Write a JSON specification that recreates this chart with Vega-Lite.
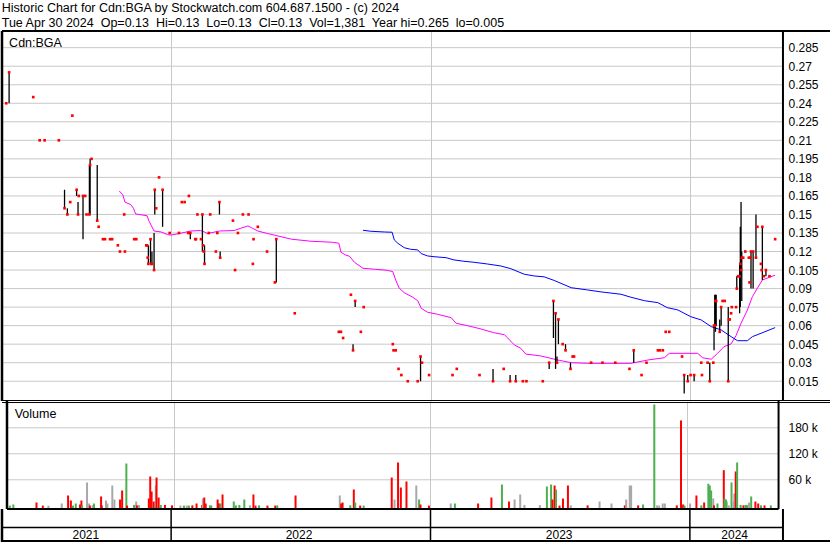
{
 "$schema": "https://vega.github.io/schema/vega-lite/v6.json",
 "padding": {"left": 0, "top": 2, "right": 0, "bottom": 0},
 "background": "#ffffff",
 "spacing": 0,
 "bounds": "flush",
 "title": {
  "text": ["Historic Chart for Cdn:BGA by Stockwatch.com 604.687.1500 - (c) 2024", "Tue Apr 30 2024\u00a0 Op=0.13\u00a0 Hi=0.13\u00a0 Lo=0.13\u00a0 Cl=0.13\u00a0 Vol=1,381\u00a0 Year hi=0.265\u00a0 lo=0.005"],
  "anchor": "start", "fontSize": 12.5, "fontWeight": "normal", "font": "Liberation Sans", "color": "#000000",
  "lineHeight": 15, "offset": 0, "dx": 1
 },
 "resolve": {"scale": {"x": "independent", "y": "independent", "color": "independent"}},
 "config": {
  "view": {"stroke": null},
  "font": "Liberation Sans",
  "axis": {"minExtent": 0, "labelFont": "Liberation Sans", "labelColor": "#000000", "labelFontSize": 12, "ticks": false, "domain": false, "gridColor": "#C8C8C8", "gridOpacity": 1, "gridWidth": 1, "labelOverlap": false},
  "concat": {"spacing": 0}
 },
 "datasets": {
  "pgrid": [{"g":0.015},{"g":0.03},{"g":0.045},{"g":0.06},{"g":0.075},{"g":0.09},{"g":0.105},{"g":0.12},{"g":0.135},{"g":0.15},{"g":0.165},{"g":0.18},{"g":0.195},{"g":0.21},{"g":0.225},{"g":0.24},{"g":0.255},{"g":0.27},{"g":0.285}],
  "vgrid": [{"g":60000},{"g":120000},{"g":180000}],
  "years": [
   {"year":"2021","start":"2021-01-01","mid":"2021-09-03"},
   {"year":"2022","start":"2022-01-01","mid":"2022-06-30"},
   {"year":"2023","start":"2023-01-01","mid":"2023-07-01"},
   {"year":"2024","start":"2024-01-01","mid":"2024-03-04"}
  ],
  "px": [
   {"d":"2021-05-14","cl":0.24},
   {"d":"2021-05-18","hi":0.265,"lo":0.24,"cl":0.265},
   {"d":"2021-06-21","cl":0.245},
   {"d":"2021-06-30","cl":0.21},
   {"d":"2021-07-07","cl":0.21},
   {"d":"2021-07-27","cl":0.21},
   {"d":"2021-08-04","hi":0.17,"lo":0.155,"cl":0.155},
   {"d":"2021-08-08","hi":0.155,"lo":0.15,"cl":0.15},
   {"d":"2021-08-12","cl":0.16},
   {"d":"2021-08-15","cl":0.23},
   {"d":"2021-08-21","hi":0.17,"lo":0.165,"cl":0.17},
   {"d":"2021-08-23","hi":0.16,"lo":0.15,"cl":0.15},
   {"d":"2021-08-24","cl":0.165},
   {"d":"2021-08-30","hi":0.165,"lo":0.13,"cl":0.165},
   {"d":"2021-09-02","cl":0.165},
   {"d":"2021-09-04","cl":0.15},
   {"d":"2021-09-08","hi":0.19,"lo":0.15,"cl":0.15},
   {"d":"2021-09-09","hi":0.195,"lo":0.15,"cl":0.19},
   {"d":"2021-09-11","cl":0.195},
   {"d":"2021-09-19","hi":0.19,"lo":0.145,"cl":0.145},
   {"d":"2021-09-21","cl":0.14},
   {"d":"2021-09-27","cl":0.13},
   {"d":"2021-09-30","cl":0.13},
   {"d":"2021-10-07","cl":0.13},
   {"d":"2021-10-10","cl":0.13},
   {"d":"2021-10-18","cl":0.125},
   {"d":"2021-10-21","cl":0.12},
   {"d":"2021-10-27","cl":0.15},
   {"d":"2021-10-28","cl":0.12},
   {"d":"2021-11-10","cl":0.13},
   {"d":"2021-11-13","cl":0.13},
   {"d":"2021-11-27","cl":0.125},
   {"d":"2021-11-28","cl":0.125},
   {"d":"2021-11-29","cl":0.115},
   {"d":"2021-11-30","hi":0.125,"lo":0.11,"cl":0.11},
   {"d":"2021-12-03","hi":0.13,"lo":0.11,"cl":0.13},
   {"d":"2021-12-04","cl":0.11},
   {"d":"2021-12-05","hi":0.12,"lo":0.11,"cl":0.11},
   {"d":"2021-12-08","hi":0.135,"lo":0.105,"cl":0.105},
   {"d":"2021-12-09","hi":0.17,"lo":0.15,"cl":0.17},
   {"d":"2021-12-11","cl":0.155},
   {"d":"2021-12-15","cl":0.18},
   {"d":"2021-12-20","hi":0.17,"lo":0.14,"cl":0.17},
   {"d":"2021-12-30","cl":0.135},
   {"d":"2022-01-12","cl":0.135},
   {"d":"2022-01-16","cl":0.16},
   {"d":"2022-01-20","cl":0.16},
   {"d":"2022-01-25","cl":0.135},
   {"d":"2022-01-26","cl":0.165},
   {"d":"2022-01-28","hi":0.135,"lo":0.13,"cl":0.135},
   {"d":"2022-02-04","cl":0.13},
   {"d":"2022-02-05","cl":0.13},
   {"d":"2022-02-07","cl":0.15},
   {"d":"2022-02-12","cl":0.13},
   {"d":"2022-02-14","hi":0.15,"lo":0.12,"cl":0.15},
   {"d":"2022-02-15","cl":0.125},
   {"d":"2022-02-16","cl":0.12},
   {"d":"2022-02-17","hi":0.125,"lo":0.11,"cl":0.11},
   {"d":"2022-02-23","cl":0.135},
   {"d":"2022-02-25","cl":0.15},
   {"d":"2022-03-05","cl":0.12},
   {"d":"2022-03-07","cl":0.135},
   {"d":"2022-03-10","hi":0.16,"lo":0.15,"cl":0.16},
   {"d":"2022-03-11","hi":0.12,"lo":0.115,"cl":0.115},
   {"d":"2022-03-29","cl":0.145},
   {"d":"2022-04-01","cl":0.105},
   {"d":"2022-04-05","cl":0.135},
   {"d":"2022-04-12","cl":0.15},
   {"d":"2022-04-20","cl":0.15},
   {"d":"2022-04-26","cl":0.11},
   {"d":"2022-04-27","cl":0.13},
   {"d":"2022-05-03","cl":0.14},
   {"d":"2022-05-16","cl":0.12},
   {"d":"2022-05-27","cl":0.095},
   {"d":"2022-05-29","hi":0.13,"lo":0.095,"cl":0.13},
   {"d":"2022-06-24","cl":0.07},
   {"d":"2022-08-25","cl":0.055},
   {"d":"2022-08-28","cl":0.055},
   {"d":"2022-08-31","cl":0.05},
   {"d":"2022-09-11","cl":0.085},
   {"d":"2022-09-14","hi":0.045,"lo":0.04,"cl":0.04},
   {"d":"2022-09-17","hi":0.08,"lo":0.075,"cl":0.08},
   {"d":"2022-09-25","cl":0.055},
   {"d":"2022-09-29","cl":0.075},
   {"d":"2022-11-09","cl":0.045},
   {"d":"2022-11-10","cl":0.04},
   {"d":"2022-11-13","cl":0.04},
   {"d":"2022-11-17","cl":0.025},
   {"d":"2022-11-21","cl":0.02},
   {"d":"2022-11-30","cl":0.015},
   {"d":"2022-12-14","cl":0.015},
   {"d":"2022-12-18","hi":0.035,"lo":0.015,"cl":0.035},
   {"d":"2022-12-20","cl":0.03},
   {"d":"2022-12-30","cl":0.02},
   {"d":"2023-02-01","cl":0.02},
   {"d":"2023-02-07","cl":0.025},
   {"d":"2023-03-11","cl":0.02},
   {"d":"2023-03-30","hi":0.025,"lo":0.015,"cl":0.015},
   {"d":"2023-04-14","cl":0.025},
   {"d":"2023-04-23","hi":0.02,"lo":0.015,"cl":0.015},
   {"d":"2023-05-01","hi":0.02,"lo":0.015,"cl":0.015},
   {"d":"2023-05-11","cl":0.015},
   {"d":"2023-05-16","cl":0.015},
   {"d":"2023-06-08","cl":0.015},
   {"d":"2023-06-17","hi":0.03,"lo":0.025,"cl":0.03},
   {"d":"2023-06-23","hi":0.08,"lo":0.05,"cl":0.08},
   {"d":"2023-06-26","hi":0.07,"lo":0.025,"cl":0.07},
   {"d":"2023-06-28","hi":0.035,"lo":0.03,"cl":0.03},
   {"d":"2023-06-30","hi":0.065,"lo":0.045,"cl":0.065},
   {"d":"2023-07-06","cl":0.045},
   {"d":"2023-07-10","hi":0.045,"lo":0.04,"cl":0.04},
   {"d":"2023-07-17","hi":0.03,"lo":0.025,"cl":0.025},
   {"d":"2023-07-20","cl":0.035},
   {"d":"2023-07-22","cl":0.035},
   {"d":"2023-08-15","cl":0.03},
   {"d":"2023-08-31","cl":0.03},
   {"d":"2023-09-18","cl":0.03},
   {"d":"2023-10-08","cl":0.025},
   {"d":"2023-10-14","hi":0.04,"lo":0.03,"cl":0.04},
   {"d":"2023-10-25","cl":0.02},
   {"d":"2023-11-01","cl":0.03},
   {"d":"2023-11-17","cl":0.04},
   {"d":"2023-11-20","cl":0.04},
   {"d":"2023-11-24","cl":0.04},
   {"d":"2023-11-28","cl":0.055},
   {"d":"2023-12-03","cl":0.055},
   {"d":"2023-12-21","cl":0.035},
   {"d":"2023-12-24","hi":0.02,"lo":0.005,"cl":0.02},
   {"d":"2023-12-29","hi":0.02,"lo":0.015,"cl":0.015},
   {"d":"2024-01-02","cl":0.02},
   {"d":"2024-01-07","hi":0.02,"lo":0.015,"cl":0.02},
   {"d":"2024-01-17","cl":0.03},
   {"d":"2024-01-18","cl":0.02},
   {"d":"2024-01-26","cl":0.03},
   {"d":"2024-01-29","hi":0.03,"lo":0.015,"cl":0.015},
   {"d":"2024-02-03","cl":0.03},
   {"d":"2024-02-04","hi":0.06,"lo":0.04,"cl":0.06},
   {"d":"2024-02-05","hi":0.085,"lo":0.06,"cl":0.06},
   {"d":"2024-02-06","hi":0.085,"lo":0.055,"cl":0.08},
   {"d":"2024-02-07","hi":0.085,"lo":0.06,"cl":0.08},
   {"d":"2024-02-12","hi":0.065,"lo":0.055,"cl":0.055},
   {"d":"2024-02-14","hi":0.075,"lo":0.06,"cl":0.075},
   {"d":"2024-02-16","cl":0.08},
   {"d":"2024-02-19","cl":0.08},
   {"d":"2024-02-24","hi":0.075,"lo":0.015,"cl":0.015},
   {"d":"2024-02-25","cl":0.065},
   {"d":"2024-02-26","cl":0.065},
   {"d":"2024-02-28","cl":0.07},
   {"d":"2024-02-29","cl":0.075},
   {"d":"2024-03-06","cl":0.075},
   {"d":"2024-03-07","hi":0.1,"lo":0.09,"cl":0.09},
   {"d":"2024-03-09","cl":0.1},
   {"d":"2024-03-11","hi":0.11,"lo":0.07,"cl":0.1},
   {"d":"2024-03-12","hi":0.14,"lo":0.075,"cl":0.11},
   {"d":"2024-03-13","hi":0.16,"lo":0.1,"cl":0.105},
   {"d":"2024-03-14","hi":0.12,"lo":0.08,"cl":0.115},
   {"d":"2024-03-16","cl":0.115},
   {"d":"2024-03-19","cl":0.12},
   {"d":"2024-03-24","cl":0.115},
   {"d":"2024-03-25","cl":0.095},
   {"d":"2024-03-26","cl":0.115},
   {"d":"2024-03-27","hi":0.12,"lo":0.09,"cl":0.12},
   {"d":"2024-03-30","hi":0.12,"lo":0.09,"cl":0.12},
   {"d":"2024-04-03","hi":0.15,"lo":0.115,"cl":0.115},
   {"d":"2024-04-05","cl":0.14},
   {"d":"2024-04-10","cl":0.11},
   {"d":"2024-04-11","cl":0.105},
   {"d":"2024-04-12","hi":0.14,"lo":0.097,"cl":0.14},
   {"d":"2024-04-14","cl":0.1},
   {"d":"2024-04-17","hi":0.105,"lo":0.1,"cl":0.105},
   {"d":"2024-04-22","cl":0.1},
   {"d":"2024-04-30","cl":0.13}
  ],
  "ma": [
   {"s":"short","d":"2021-10-20","v":0.169},{"s":"short","d":"2021-10-25","v":0.166},{"s":"short","d":"2021-10-28","v":0.16},
   {"s":"short","d":"2021-11-05","v":0.158},{"s":"short","d":"2021-11-09","v":0.155},{"s":"short","d":"2021-11-12","v":0.1504},
   {"s":"short","d":"2021-11-28","v":0.149},{"s":"short","d":"2021-12-01","v":0.1445},{"s":"short","d":"2021-12-08","v":0.1366},
   {"s":"short","d":"2021-12-18","v":0.1358},{"s":"short","d":"2021-12-27","v":0.1337},{"s":"short","d":"2021-12-31","v":0.1333},
   {"s":"short","d":"2022-01-12","v":0.1345},{"s":"short","d":"2022-01-29","v":0.1366},{"s":"short","d":"2022-02-11","v":0.137},
   {"s":"short","d":"2022-02-17","v":0.1358},{"s":"short","d":"2022-02-21","v":0.1345},{"s":"short","d":"2022-03-10","v":0.1366},
   {"s":"short","d":"2022-03-31","v":0.137},{"s":"short","d":"2022-04-09","v":0.1388},{"s":"short","d":"2022-04-19","v":0.1407},
   {"s":"short","d":"2022-04-24","v":0.1393},{"s":"short","d":"2022-05-03","v":0.1366},{"s":"short","d":"2022-05-17","v":0.1345},
   {"s":"short","d":"2022-05-21","v":0.134},{"s":"short","d":"2022-06-19","v":0.13},{"s":"short","d":"2022-07-17","v":0.1283},
   {"s":"short","d":"2022-08-16","v":0.1275},{"s":"short","d":"2022-08-25","v":0.1267},{"s":"short","d":"2022-08-28","v":0.1194},
   {"s":"short","d":"2022-09-04","v":0.117},{"s":"short","d":"2022-09-09","v":0.1162},{"s":"short","d":"2022-09-16","v":0.1113},
   {"s":"short","d":"2022-09-28","v":0.1064},{"s":"short","d":"2022-10-16","v":0.1056},{"s":"short","d":"2022-11-01","v":0.1048},
   {"s":"short","d":"2022-11-09","v":0.1037},{"s":"short","d":"2022-11-13","v":0.097},{"s":"short","d":"2022-11-18","v":0.0903},
   {"s":"short","d":"2022-11-25","v":0.0867},{"s":"short","d":"2022-12-07","v":0.083},{"s":"short","d":"2022-12-14","v":0.0802},
   {"s":"short","d":"2022-12-19","v":0.074},{"s":"short","d":"2022-12-28","v":0.0708},{"s":"short","d":"2023-01-11","v":0.0692},
   {"s":"short","d":"2023-01-30","v":0.0665},{"s":"short","d":"2023-02-06","v":0.0619},{"s":"short","d":"2023-02-22","v":0.06},
   {"s":"short","d":"2023-03-13","v":0.0573},{"s":"short","d":"2023-03-31","v":0.0543},{"s":"short","d":"2023-04-15","v":0.0527},
   {"s":"short","d":"2023-04-29","v":0.0444},{"s":"short","d":"2023-05-08","v":0.0417},{"s":"short","d":"2023-05-15","v":0.037},
   {"s":"short","d":"2023-06-05","v":0.0355},{"s":"short","d":"2023-06-29","v":0.0322},{"s":"short","d":"2023-07-18","v":0.03},
   {"s":"short","d":"2023-08-10","v":0.0295},{"s":"short","d":"2023-10-10","v":0.0295},{"s":"short","d":"2023-11-03","v":0.0322},
   {"s":"short","d":"2023-11-26","v":0.034},{"s":"short","d":"2023-12-03","v":0.0376},{"s":"short","d":"2024-01-12","v":0.0376},
   {"s":"short","d":"2024-01-19","v":0.034},{"s":"short","d":"2024-01-31","v":0.0328},{"s":"short","d":"2024-02-09","v":0.0376},
   {"s":"short","d":"2024-02-18","v":0.043},{"s":"short","d":"2024-02-28","v":0.0452},{"s":"short","d":"2024-03-06","v":0.052},
   {"s":"short","d":"2024-03-13","v":0.0619},{"s":"short","d":"2024-03-22","v":0.0727},{"s":"short","d":"2024-03-29","v":0.0835},
   {"s":"short","d":"2024-04-05","v":0.0903},{"s":"short","d":"2024-04-12","v":0.097},{"s":"short","d":"2024-04-22","v":0.0992},
   {"s":"short","d":"2024-04-30","v":0.1008},
   {"s":"long","d":"2022-09-28","v":0.1372},{"s":"long","d":"2022-10-09","v":0.1364},{"s":"long","d":"2022-10-28","v":0.1358},
   {"s":"long","d":"2022-11-08","v":0.1356},{"s":"long","d":"2022-11-11","v":0.1294},{"s":"long","d":"2022-11-16","v":0.1267},
   {"s":"long","d":"2022-11-25","v":0.1231},{"s":"long","d":"2022-12-04","v":0.1218},{"s":"long","d":"2022-12-14","v":0.1213},
   {"s":"long","d":"2022-12-19","v":0.1183},{"s":"long","d":"2022-12-28","v":0.1164},{"s":"long","d":"2023-01-06","v":0.1158},
   {"s":"long","d":"2023-01-23","v":0.115},{"s":"long","d":"2023-02-03","v":0.1132},{"s":"long","d":"2023-02-17","v":0.1121},
   {"s":"long","d":"2023-03-03","v":0.1113},{"s":"long","d":"2023-03-22","v":0.1099},{"s":"long","d":"2023-04-10","v":0.1083},
   {"s":"long","d":"2023-04-24","v":0.1061},{"s":"long","d":"2023-05-13","v":0.1016},{"s":"long","d":"2023-05-27","v":0.1002},
   {"s":"long","d":"2023-06-10","v":0.0995},{"s":"long","d":"2023-06-24","v":0.0966},{"s":"long","d":"2023-07-18","v":0.0907},
   {"s":"long","d":"2023-08-10","v":0.0889},{"s":"long","d":"2023-08-29","v":0.0873},{"s":"long","d":"2023-09-26","v":0.0854},
   {"s":"long","d":"2023-10-10","v":0.083},{"s":"long","d":"2023-10-29","v":0.0802},{"s":"long","d":"2023-11-17","v":0.0786},
   {"s":"long","d":"2023-11-30","v":0.0746},{"s":"long","d":"2023-12-15","v":0.0727},{"s":"long","d":"2024-01-02","v":0.0673},
   {"s":"long","d":"2024-01-17","v":0.0646},{"s":"long","d":"2024-01-31","v":0.0592},{"s":"long","d":"2024-02-14","v":0.0565},
   {"s":"long","d":"2024-02-28","v":0.0511},{"s":"long","d":"2024-03-08","v":0.0478},{"s":"long","d":"2024-03-22","v":0.0478},
   {"s":"long","d":"2024-03-29","v":0.0511},{"s":"long","d":"2024-04-10","v":0.0538},{"s":"long","d":"2024-04-30","v":0.0584}
  ],
  "vol": [
   {"d":"2021-05-12","v":500,"dir":"up"},{"d":"2021-05-17","v":3000,"dir":"up"},{"d":"2021-06-19","v":7600,"dir":"down"},
   {"d":"2021-06-28","v":500,"dir":"down"},{"d":"2021-07-06","v":300,"dir":"flat"},{"d":"2021-07-25","v":5300,"dir":"flat"},
   {"d":"2021-08-03","v":23800,"dir":"down"},{"d":"2021-08-07","v":12200,"dir":"down"},{"d":"2021-08-10","v":500,"dir":"up"},
   {"d":"2021-08-14","v":5300,"dir":"up"},{"d":"2021-08-20","v":3000,"dir":"down"},{"d":"2021-08-22","v":12200,"dir":"down"},
   {"d":"2021-08-23","v":1000,"dir":"up"},{"d":"2021-08-30","v":53800,"dir":"flat"},{"d":"2021-09-02","v":5300,"dir":"flat"},
   {"d":"2021-09-03","v":500,"dir":"down"},{"d":"2021-09-07","v":1500,"dir":"flat"},{"d":"2021-09-09","v":5300,"dir":"up"},
   {"d":"2021-09-19","v":21500,"dir":"down"},{"d":"2021-09-20","v":1000,"dir":"down"},{"d":"2021-09-26","v":12200,"dir":"flat"},
   {"d":"2021-09-28","v":5300,"dir":"flat"},{"d":"2021-10-05","v":46800,"dir":"flat"},{"d":"2021-10-08","v":14500,"dir":"flat"},
   {"d":"2021-10-16","v":14500,"dir":"down"},{"d":"2021-10-19","v":35300,"dir":"down"},{"d":"2021-10-25","v":97600,"dir":"up"},
   {"d":"2021-10-26","v":500,"dir":"down"},{"d":"2021-11-05","v":2000,"dir":"up"},{"d":"2021-11-08","v":9900,"dir":"flat"},
   {"d":"2021-11-09","v":1000,"dir":"down"},{"d":"2021-11-12","v":2000,"dir":"flat"},{"d":"2021-11-26","v":16800,"dir":"down"},
   {"d":"2021-11-28","v":67600,"dir":"down"},{"d":"2021-11-30","v":33000,"dir":"down"},{"d":"2021-12-02","v":1000,"dir":"up"},
   {"d":"2021-12-03","v":9900,"dir":"down"},{"d":"2021-12-06","v":46800,"dir":"flat"},{"d":"2021-12-07","v":65300,"dir":"down"},
   {"d":"2021-12-10","v":19100,"dir":"down"},{"d":"2021-12-13","v":2000,"dir":"up"},{"d":"2021-12-19","v":2000,"dir":"down"},
   {"d":"2021-12-29","v":1000,"dir":"down"},
   {"d":"2022-01-10","v":500,"dir":"flat"},{"d":"2022-01-15","v":500,"dir":"up"},{"d":"2022-01-19","v":500,"dir":"flat"},
   {"d":"2022-01-22","v":500,"dir":"up"},{"d":"2022-01-27","v":1000,"dir":"down"},{"d":"2022-02-02","v":5300,"dir":"down"},
   {"d":"2022-02-10","v":2000,"dir":"down"},{"d":"2022-02-11","v":16800,"dir":"flat"},{"d":"2022-02-13","v":19100,"dir":"down"},
   {"d":"2022-02-15","v":5300,"dir":"down"},{"d":"2022-02-21","v":1000,"dir":"up"},{"d":"2022-02-23","v":500,"dir":"up"},
   {"d":"2022-03-04","v":14500,"dir":"down"},{"d":"2022-03-06","v":5300,"dir":"down"},{"d":"2022-03-08","v":5300,"dir":"up"},
   {"d":"2022-03-11","v":26100,"dir":"down"},{"d":"2022-03-27","v":9900,"dir":"up"},{"d":"2022-03-30","v":1000,"dir":"up"},
   {"d":"2022-04-04","v":2000,"dir":"up"},{"d":"2022-04-11","v":14500,"dir":"up"},{"d":"2022-04-19","v":1000,"dir":"flat"},
   {"d":"2022-04-24","v":26100,"dir":"down"},{"d":"2022-04-27","v":500,"dir":"down"},{"d":"2022-05-02","v":1000,"dir":"up"},
   {"d":"2022-05-14","v":500,"dir":"down"},{"d":"2022-05-25","v":500,"dir":"down"},{"d":"2022-05-28","v":1000,"dir":"up"},
   {"d":"2022-06-23","v":23800,"dir":"down"},{"d":"2022-08-25","v":23800,"dir":"flat"},{"d":"2022-08-27","v":5300,"dir":"down"},
   {"d":"2022-08-29","v":7600,"dir":"down"},{"d":"2022-09-09","v":1000,"dir":"up"},{"d":"2022-09-14","v":37600,"dir":"down"},
   {"d":"2022-09-16","v":7600,"dir":"up"},{"d":"2022-09-23","v":500,"dir":"down"},{"d":"2022-09-28","v":500,"dir":"up"},
   {"d":"2022-11-07","v":65300,"dir":"down"},{"d":"2022-11-11","v":14500,"dir":"flat"},{"d":"2022-11-16","v":99900,"dir":"down"},
   {"d":"2022-11-20","v":42200,"dir":"down"},{"d":"2022-11-28","v":56100,"dir":"down"},{"d":"2022-12-12","v":46800,"dir":"flat"},
   {"d":"2022-12-16","v":14500,"dir":"up"},{"d":"2022-12-18","v":3000,"dir":"down"},{"d":"2022-12-30","v":500,"dir":"down"},
   {"d":"2023-01-30","v":5300,"dir":"flat"},{"d":"2023-02-05","v":5300,"dir":"up"},{"d":"2023-03-10","v":5300,"dir":"down"},
   {"d":"2023-03-29","v":19100,"dir":"down"},{"d":"2023-04-13","v":49100,"dir":"up"},{"d":"2023-04-23","v":9900,"dir":"down"},
   {"d":"2023-05-01","v":14500,"dir":"flat"},{"d":"2023-05-09","v":26100,"dir":"flat"},{"d":"2023-05-15","v":2000,"dir":"flat"},
   {"d":"2023-06-06","v":1500,"dir":"flat"},{"d":"2023-06-16","v":44500,"dir":"up"},{"d":"2023-06-22","v":49100,"dir":"up"},
   {"d":"2023-06-24","v":14500,"dir":"down"},{"d":"2023-06-27","v":46800,"dir":"down"},{"d":"2023-06-29","v":37600,"dir":"up"},
   {"d":"2023-07-04","v":500,"dir":"down"},{"d":"2023-07-09","v":16800,"dir":"down"},{"d":"2023-07-16","v":46800,"dir":"down"},
   {"d":"2023-07-20","v":1000,"dir":"flat"},{"d":"2023-08-13","v":1000,"dir":"down"},{"d":"2023-08-30","v":9900,"dir":"flat"},
   {"d":"2023-09-16","v":5300,"dir":"flat"},{"d":"2023-10-05","v":1000,"dir":"down"},{"d":"2023-10-07","v":14500,"dir":"flat"},
   {"d":"2023-10-12","v":46800,"dir":"flat"},{"d":"2023-10-14","v":46800,"dir":"flat"},{"d":"2023-10-24","v":1000,"dir":"down"},
   {"d":"2023-10-31","v":3000,"dir":"up"},{"d":"2023-11-16","v":233800,"dir":"up"},{"d":"2023-11-20","v":1000,"dir":"flat"},
   {"d":"2023-11-23","v":500,"dir":"flat"},{"d":"2023-11-28","v":5300,"dir":"flat"},{"d":"2023-12-01","v":5300,"dir":"flat"},
   {"d":"2023-12-18","v":1000,"dir":"down"},{"d":"2023-12-24","v":196900,"dir":"down"},{"d":"2023-12-27","v":3000,"dir":"down"},
   {"d":"2023-12-29","v":500,"dir":"up"},
   {"d":"2024-01-06","v":5300,"dir":"flat"},{"d":"2024-01-15","v":23800,"dir":"down"},{"d":"2024-01-22","v":1000,"dir":"up"},
   {"d":"2024-01-26","v":7600,"dir":"down"},{"d":"2024-02-01","v":50800,"dir":"up"},{"d":"2024-02-03","v":46800,"dir":"up"},
   {"d":"2024-02-05","v":35300,"dir":"up"},{"d":"2024-02-08","v":16800,"dir":"flat"},{"d":"2024-02-09","v":1000,"dir":"down"},
   {"d":"2024-02-14","v":5300,"dir":"up"},{"d":"2024-02-23","v":82200,"dir":"down"},{"d":"2024-02-24","v":16800,"dir":"up"},
   {"d":"2024-02-26","v":14500,"dir":"up"},{"d":"2024-02-27","v":9900,"dir":"up"},{"d":"2024-03-01","v":1000,"dir":"flat"},
   {"d":"2024-03-05","v":53800,"dir":"up"},{"d":"2024-03-08","v":9900,"dir":"flat"},{"d":"2024-03-09","v":28400,"dir":"flat"},
   {"d":"2024-03-11","v":79200,"dir":"down"},{"d":"2024-03-13","v":99900,"dir":"up"},{"d":"2024-03-18","v":2000,"dir":"up"},
   {"d":"2024-03-22","v":1000,"dir":"down"},{"d":"2024-03-25","v":2000,"dir":"up"},{"d":"2024-03-27","v":2000,"dir":"up"},
   {"d":"2024-03-30","v":7600,"dir":"flat"},{"d":"2024-04-02","v":21500,"dir":"up"},{"d":"2024-04-08","v":9900,"dir":"down"},
   {"d":"2024-04-12","v":5300,"dir":"down"},{"d":"2024-04-16","v":1000,"dir":"up"},{"d":"2024-04-21","v":1000,"dir":"down"},
   {"d":"2024-04-30","v":1000,"dir":"up"}
  ]
 },
 "vconcat": [
  {
   "width": 830, "height": 370,
   "layer": [
    {"data": {"name": "pgrid"},
     "mark": {"type": "rule", "color": "#C8C8C8", "strokeWidth": 1},
     "encoding": {
      "x": {"datum": {"year": 2021, "month": 5, "date": 8}, "type": "temporal",
            "scale": {"domain": [{"year": 2021, "month": 5, "date": 8}, {"year": 2024, "month": 7, "date": 19}]},
            "axis": {"orient": "bottom", "values": [{"year": 2022, "month": 1, "date": 1}, {"year": 2023, "month": 1, "date": 1}, {"year": 2024, "month": 1, "date": 1}], "grid": true, "labels": false, "ticks": false, "domain": false, "title": null}},
      "x2": {"datum": {"year": 2024, "month": 5, "date": 11}},
      "y": {"field": "g", "type": "quantitative",
            "scale": {"domain": [-0.001, 0.2985], "nice": false, "zero": false},
            "axis": {"orient": "right", "offset": -49, "tickCount": 40, "values": [0.015,0.03,0.045,0.06,0.075,0.09,0.105,0.12,0.135,0.15,0.165,0.18,0.195,0.21,0.225,0.24,0.255,0.27,0.285], "format": ".3~f", "grid": false, "labelPadding": 5, "labelOverlap": false, "title": null}}
     }},
    {"data": {"name": "ma"},
     "mark": {"type": "line", "strokeWidth": 1},
     "encoding": {
      "x": {"field": "d", "type": "temporal"},
      "y": {"field": "v", "type": "quantitative"},
      "color": {"field": "s", "type": "nominal", "scale": {"domain": ["short", "long"], "range": ["#FF00FF", "#0000FF"]}, "legend": null}
     }},
    {"data": {"name": "px"},
     "mark": {"type": "rule", "color": "#000000", "strokeWidth": 1.3},
     "encoding": {
      "x": {"field": "d", "type": "temporal"},
      "y": {"field": "lo", "type": "quantitative"},
      "y2": {"field": "hi"}
     }},
    {"data": {"name": "px"},
     "mark": {"type": "square", "color": "#FF0000", "filled": true, "opacity": 1, "size": 7},
     "encoding": {
      "x": {"field": "d", "type": "temporal"},
      "y": {"field": "cl", "type": "quantitative"}
     }},
    {"data": {"values": [{"label": "Cdn:BGA"}]},
     "mark": {"type": "text", "align": "left", "baseline": "alphabetic", "fontSize": 12.5, "color": "#000000"},
     "encoding": {
      "x": {"datum": {"year": 2021, "month": 5, "date": 18}, "type": "temporal"},
      "y": {"datum": 0.2852, "type": "quantitative"},
      "text": {"field": "label"}
     }},
    {"data": {"values": [{}]}, "mark": {"type": "rule", "color": "#000000", "strokeWidth": 2}, "encoding": {"y": {"datum": 0.2985, "type": "quantitative"}}},
    {"data": {"values": [{}]}, "mark": {"type": "rule", "color": "#000000", "strokeWidth": 1}, "encoding": {"y": {"datum": -0.0006, "type": "quantitative"}}},
    {"data": {"values": [{}]}, "mark": {"type": "rule", "color": "#000000", "strokeWidth": 2.5}, "encoding": {"x": {"datum": {"year": 2021, "month": 5, "date": 8}, "type": "temporal"}}},
    {"data": {"values": [{}]}, "mark": {"type": "rule", "color": "#000000", "strokeWidth": 2}, "encoding": {"x": {"datum": {"year": 2024, "month": 5, "date": 11}, "type": "temporal"}}}
   ]
  },
  {
   "width": 830, "height": 108,
   "layer": [
    {"data": {"name": "vgrid"},
     "mark": {"type": "rule", "color": "#C8C8C8", "strokeWidth": 1},
     "encoding": {
      "x": {"datum": {"year": 2021, "month": 5, "date": 8}, "type": "temporal",
            "scale": {"domain": [{"year": 2021, "month": 5, "date": 8}, {"year": 2024, "month": 7, "date": 19}]},
            "axis": {"orient": "bottom", "values": [{"year": 2022, "month": 1, "date": 1}, {"year": 2023, "month": 1, "date": 1}, {"year": 2024, "month": 1, "date": 1}], "grid": true, "labels": false, "ticks": false, "domain": false, "title": null}},
      "x2": {"datum": {"year": 2024, "month": 5, "date": 11}},
      "y": {"field": "g", "type": "quantitative",
            "scale": {"domain": [-7400, 241800], "nice": false, "zero": false},
            "axis": {"orient": "right", "offset": -49, "tickCount": 20, "values": [60000, 120000, 180000], "labelExpr": "(datum.value / 1000) + ' k'", "grid": false, "labelPadding": 5, "labelOverlap": false, "title": null}}
     }},
    {"data": {"name": "vol"},
     "mark": {"type": "bar", "size": 2},
     "encoding": {
      "x": {"field": "d", "type": "temporal"},
      "y": {"field": "v", "type": "quantitative"},
      "y2": {"datum": -7400},
      "color": {"field": "dir", "type": "nominal", "scale": {"domain": ["up", "down", "flat"], "range": ["#4CAF50", "#FF0000", "#A8A8A8"]}, "legend": null}
     }},
    {"data": {"values": [{"label": "Volume"}]},
     "mark": {"type": "text", "align": "left", "baseline": "alphabetic", "fontSize": 12.5, "color": "#000000"},
     "encoding": {
      "x": {"datum": {"year": 2021, "month": 5, "date": 19}, "type": "temporal"},
      "y": {"datum": 202600, "type": "quantitative"},
      "text": {"field": "label"}
     }},
    {"data": {"values": [{}]}, "mark": {"type": "rule", "color": "#000000", "strokeWidth": 1}, "encoding": {"y": {"datum": 238300, "type": "quantitative"}}},
    {"data": {"values": [{}]}, "mark": {"type": "rule", "color": "#000000", "strokeWidth": 2}, "encoding": {"x": {"datum": {"year": 2021, "month": 5, "date": 8}, "type": "temporal"}, "x2": {"datum": {"year": 2024, "month": 5, "date": 11}}, "y": {"datum": -7400, "type": "quantitative"}}},
    {"data": {"values": [{}]}, "mark": {"type": "rule", "color": "#000000", "strokeWidth": 2.5}, "encoding": {"x": {"datum": {"year": 2021, "month": 5, "date": 8}, "type": "temporal"}}},
    {"data": {"values": [{}]}, "mark": {"type": "rule", "color": "#000000", "strokeWidth": 2}, "encoding": {"x": {"datum": {"year": 2024, "month": 5, "date": 11}, "type": "temporal"}}}
   ]
  },
  {
   "width": 830, "height": 33,
   "layer": [
    {"data": {"name": "years"},
     "mark": {"type": "rule", "color": "#000000", "strokeWidth": 1.5, "clip": true},
     "encoding": {
      "x": {"field": "start", "type": "temporal",
            "scale": {"domain": [{"year": 2021, "month": 5, "date": 8}, {"year": 2024, "month": 7, "date": 19}]},
            "axis": null}
     }},
    {"data": {"name": "years"},
     "mark": {"type": "text", "fontSize": 12, "color": "#000000", "baseline": "middle", "align": "center"},
     "encoding": {
      "x": {"field": "mid", "type": "temporal"},
      "y": {"datum": 7.5, "type": "quantitative", "scale": {"domain": [0, 33], "nice": false, "zero": false}, "axis": null},
      "text": {"field": "year"}
     }},
    {"data": {"values": [{}]}, "mark": {"type": "rule", "color": "#000000", "strokeWidth": 1.5}, "encoding": {"x": {"datum": {"year": 2021, "month": 5, "date": 8}, "type": "temporal"}, "x2": {"datum": {"year": 2024, "month": 5, "date": 11}}, "y": {"datum": 14.5, "type": "quantitative"}}},
    {"data": {"values": [{}]}, "mark": {"type": "rule", "color": "#000000", "strokeWidth": 2}, "encoding": {"y": {"datum": 1, "type": "quantitative"}}},
    {"data": {"values": [{}]}, "mark": {"type": "rule", "color": "#000000", "strokeWidth": 2.5}, "encoding": {"x": {"datum": {"year": 2021, "month": 5, "date": 8}, "type": "temporal"}}},
    {"data": {"values": [{}]}, "mark": {"type": "rule", "color": "#000000", "strokeWidth": 2}, "encoding": {"x": {"datum": {"year": 2024, "month": 5, "date": 11}, "type": "temporal"}}}
   ]
  }
 ]
}
